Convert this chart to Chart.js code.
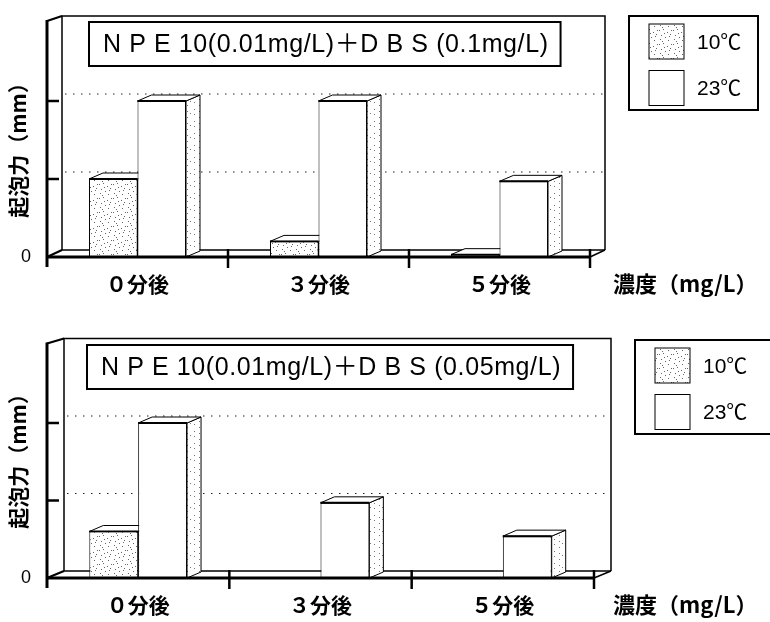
<!DOCTYPE html>
<html>
<head>
<meta charset="utf-8">
<script src="https://cdn.jsdelivr.net/npm/chart.js@4.4.1/dist/chart.umd.min.js"></script>
<style>
  html, body { margin: 0; padding: 0; background: #fff; }
  #wrap { position: relative; width: 770px; height: 622px; overflow: hidden; background: #fff; }
  canvas { position: absolute; left: 0; }
</style>
</head>
<body>
<div id="wrap">
  <canvas id="upper" width="770" height="310" style="top:0"></canvas>
  <canvas id="lower" width="770" height="312" style="top:310px"></canvas>
</div>
<script>
// Foaming height after 0, 3 and 5 minutes, at two temperatures
const categories = ['０分後', '３分後', '５分後'];
const seriesLabels = ['10℃', '23℃'];
const yTickValues = [0, 1, 2, 3];
const yTickLabels = ['0', '', '', ''];
const upperTitle = 'N P E 10(0.01mg/L)＋D B S (0.1mg/L)';
const lowerTitle = 'N P E 10(0.01mg/L)＋D B S (0.05mg/L)';
const upper10 = [1.0, 0.2, 0.03];
const upper23 = [2.0, 2.0, 0.97];
const lower10 = [0.6, 0, 0];
const lower23 = [2.0, 0.97, 0.54];
const xAxisTitle = '濃度（mg/L）';
const yAxisTitle = '起泡力（mm）';

const LATIN = '"Liberation Sans", "Noto Sans CJK JP", sans-serif';
const CJK = '"Noto Sans CJK JP", "Liberation Sans", sans-serif';

// fill patterns: speckled grey for the 10℃ bars, sparse dots for shaded side faces
function makePattern(size, dots, colour) {
  const c = document.createElement('canvas');
  c.width = c.height = size;
  const g = c.getContext('2d');
  g.fillStyle = '#fff';
  g.fillRect(0, 0, size, size);
  g.fillStyle = colour;
  dots.forEach(([x, y]) => g.fillRect(x, y, 1, 1));
  return g.createPattern(c, 'repeat');
}
const speckle = makePattern(14, [[1,2],[5,1],[9,4],[3,7],[7,9],[11,8],[2,11],[10,12],[6,5],[13,2],[12,6],[4,13]], '#666');
const sideDots = makePattern(12, [[2,1],[2,6],[7,3],[7,9],[10,5]], '#777');

function seg(ctx, x1, y1, x2, y2) {
  ctx.beginPath();
  ctx.moveTo(x1, y1);
  ctx.lineTo(x2, y2);
  ctx.stroke();
}

// top and side faces of each bar so the columns look like blocks
function drawFaces(chart, index, o) {
  const ctx = chart.ctx;
  const meta = chart.getDatasetMeta(index);
  ctx.save();
  ctx.strokeStyle = '#000';
  ctx.lineWidth = 1;
  meta.data.forEach(el => {
    const p = el.getProps(['x', 'y', 'base', 'width'], true);
    if (Math.abs(p.base - p.y) < 0.5) return;
    const l = p.x - p.width / 2, r = p.x + p.width / 2;
    const dx = o.barDx, dy = o.barDy;
    // side face
    ctx.beginPath();
    ctx.moveTo(r, p.y);
    ctx.lineTo(r + dx, p.y - dy);
    ctx.lineTo(r + dx, p.base - dy);
    ctx.lineTo(r, p.base);
    ctx.closePath();
    ctx.fillStyle = sideDots;
    ctx.fill();
    ctx.stroke();
    // top face
    ctx.beginPath();
    ctx.moveTo(l, p.y);
    ctx.lineTo(l + dx, p.y - dy);
    ctx.lineTo(r + dx, p.y - dy);
    ctx.lineTo(r, p.y);
    ctx.closePath();
    ctx.fillStyle = '#fff';
    ctx.fill();
    ctx.stroke();
    ctx.lineWidth = 2;
    seg(ctx, l, p.y, r, p.y);
    ctx.lineWidth = 1;
  });
  ctx.restore();
}

const frame3d = {
  id: 'frame3d',
  beforeDatasetsDraw(chart, args, o) {
    const ctx = chart.ctx;
    const { left, right, top, bottom } = chart.chartArea;
    const ys = chart.scales.y;
    ctx.save();
    ctx.strokeStyle = '#000';
    // back wall
    ctx.lineWidth = 1.5;
    ctx.beginPath();
    ctx.moveTo(left + o.dx, bottom - o.dy);
    ctx.lineTo(left + o.dx, top - o.dy);
    ctx.lineTo(right + o.dx, top - o.dy);
    ctx.lineTo(right + o.dx, bottom - o.dy);
    ctx.stroke();
    // dotted gridlines on the back wall
    ctx.save();
    ctx.setLineDash([1.5, 6.5]);
    ctx.lineWidth = 1;
    ctx.strokeStyle = '#222';
    yTickValues.forEach(v => {
      if (v > ys.min && v < ys.max) {
        const py = ys.getPixelForValue(v) - o.dy;
        seg(ctx, left + o.dx + 3, py, right + o.dx, py);
      }
    });
    ctx.restore();
    // floor and wall edges
    ctx.lineWidth = 1.5;
    seg(ctx, left + o.dx, bottom - o.dy, right + o.dx, bottom - o.dy);
    seg(ctx, right, bottom, right + o.dx, bottom - o.dy);
    ctx.lineWidth = 2;
    seg(ctx, left, bottom, left + o.dx, bottom - o.dy);
    seg(ctx, left, top - 2, left + o.dx, top - o.dy);
    ctx.restore();
    drawFaces(chart, 0, o);
  },
  afterDatasetsDraw(chart, args, o) {
    drawFaces(chart, 1, o);
    const ctx = chart.ctx;
    const { left, right, top, bottom } = chart.chartArea;
    const xs = chart.scales.x, ys = chart.scales.y;
    ctx.save();
    ctx.strokeStyle = '#000';
    // front value axis and category axis
    ctx.lineWidth = 3;
    seg(ctx, left, top - 3, left, bottom + 10);
    seg(ctx, left, bottom, right, bottom);
    ctx.lineWidth = 2.5;
    yTickValues.forEach(v => {
      if (v > ys.min && v < ys.max) {
        const py = ys.getPixelForValue(v);
        seg(ctx, left, py, left + 12, py);
      }
    });
    const n = categories.length;
    for (let k = 1; k <= n; k++) {
      const px = left + (right - left) * k / n;
      seg(ctx, px, bottom - 8, px, bottom + 11);
    }
    // tick labels
    ctx.fillStyle = '#000';
    ctx.textBaseline = 'middle';
    ctx.textAlign = 'right';
    ctx.font = '18px ' + LATIN;
    yTickValues.forEach((v, i) => {
      if (yTickLabels[i]) ctx.fillText(yTickLabels[i], 31, ys.getPixelForValue(v));
    });
    ctx.textAlign = 'center';
    ctx.font = 'bold 21px ' + CJK;
    categories.forEach((c, i) => ctx.fillText(c, xs.getPixelForValue(i), bottom + o.labelGap));
    ctx.textAlign = 'left';
    ctx.font = 'bold 22px ' + CJK;
    ctx.fillText(xAxisTitle, o.xTitleX, bottom + o.labelGap);
    // value axis title
    ctx.save();
    ctx.translate(18, o.yTitleY);
    ctx.rotate(-Math.PI / 2);
    ctx.textAlign = 'center';
    ctx.font = 'bold 21px ' + CJK;
    ctx.fillText(yAxisTitle, 0, 0);
    ctx.restore();
    ctx.restore();
  },
  afterDraw(chart, args, o) {
    const ctx = chart.ctx;
    ctx.save();
    ctx.strokeStyle = '#000';
    ctx.fillStyle = '#000';
    // caption box inside the plot
    ctx.font = '25px ' + LATIN;
    ctx.letterSpacing = '0.6px';
    const tw = ctx.measureText(o.title).width;
    const bx = o.titleBox[0], by = o.titleBox[1], bh = o.titleBox[2];
    ctx.lineWidth = 2;
    ctx.fillStyle = '#fff';
    ctx.fillRect(bx, by, tw + 26, bh);
    ctx.strokeRect(bx, by, tw + 26, bh);
    ctx.fillStyle = '#000';
    ctx.textBaseline = 'middle';
    ctx.textAlign = 'left';
    ctx.fillText(o.title, bx + 14, by + bh / 2 + 1);
    ctx.letterSpacing = '0px';
    // legend
    const [lx, ly, lw, lh] = o.legendBox;
    ctx.lineWidth = 2;
    ctx.strokeRect(lx, ly, lw, lh);
    ctx.font = '21px ' + LATIN;
    chart.data.datasets.forEach((ds, i) => {
      const sy = ly + 8 + i * 46.5;
      ctx.fillStyle = ds.backgroundColor;
      ctx.fillRect(lx + 20, sy, 35, 35);
      ctx.lineWidth = 1;
      ctx.strokeRect(lx + 20, sy, 35, 35);
      ctx.fillStyle = '#000';
      ctx.fillText(ds.label, lx + 68, sy + 19);
    });
    ctx.restore();
  }
};

function build(id, values10, values23, plugOpts, padding) {
  return new Chart(document.getElementById(id), {
    type: 'bar',
    data: {
      labels: categories,
      datasets: [
        { label: seriesLabels[0], data: values10, backgroundColor: speckle, borderColor: '#000', borderWidth: 1 },
        { label: seriesLabels[1], data: values23, backgroundColor: '#fff', borderColor: '#000', borderWidth: 1 }
      ]
    },
    options: {
      responsive: false,
      animation: false,
      layout: { padding },
      categoryPercentage: 0.536,
      barPercentage: 1.0,
      scales: {
        x: { display: false },
        y: { display: false, min: 0, max: 3, ticks: { stepSize: 1 } }
      },
      plugins: {
        legend: { display: false },
        tooltip: { enabled: false },
        frame3d: plugOpts
      }
    },
    plugins: [frame3d]
  });
}

build('upper', upper10, upper23, {
  dx: 15, dy: 7, barDx: 14, barDy: 6,
  title: upperTitle, titleBox: [89, 22, 44],
  legendBox: [629, 16, 129, 94],
  labelGap: 27, xTitleX: 613, yTitleY: 145
}, { left: 47, right: 180, top: 23, bottom: 53 });

build('lower', lower10, lower23, {
  dx: 17, dy: 7, barDx: 14, barDy: 6,
  title: lowerTitle, titleBox: [87, 35, 44],
  legendBox: [635, 30, 140, 94],
  labelGap: 27, xTitleX: 613, yTitleY: 146
}, { left: 47, right: 176, top: 35.5, bottom: 44 });
</script>
</body>
</html>
